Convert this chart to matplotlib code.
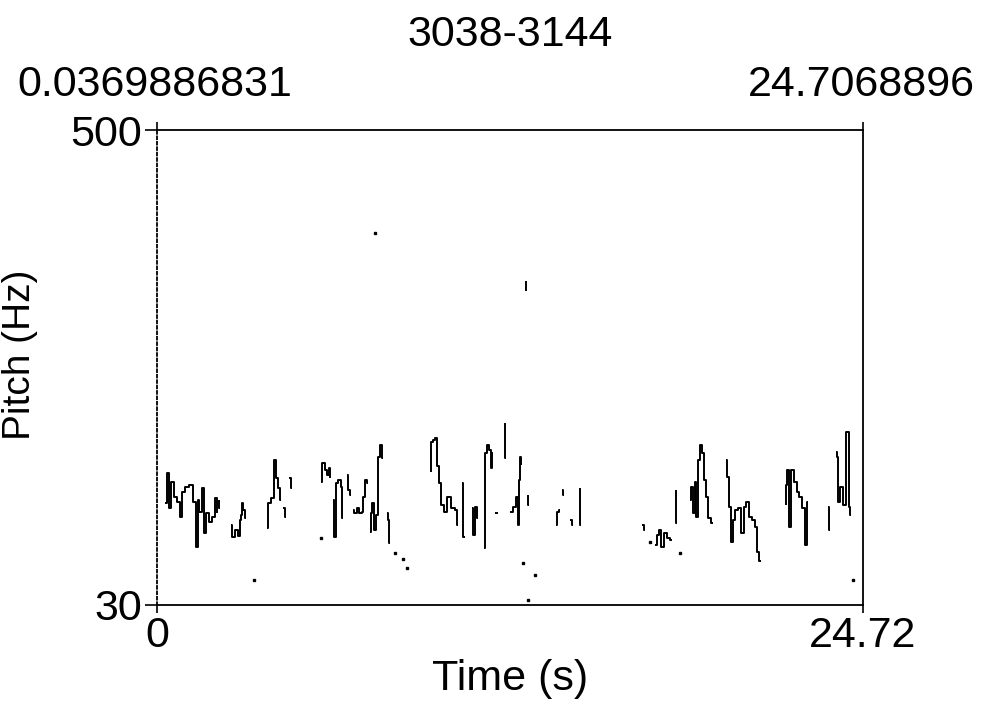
import matplotlib
matplotlib.use("Agg")
import matplotlib.pyplot as plt

plt.rcParams['font.family'] = ['Liberation Sans', 'DejaVu Sans']

# Praat-style pitch track, 3038-3144
title = "3038-3144"
t_start, t_end = 0.0369886831, 24.7068896
x_min, x_max = 0, 24.72
f_min, f_max = 30, 500

# voiced chunks: (time s, pitch Hz)
chunk_t = [
    [0.28, 0.39, 0.42, 0.53, 0.63, 0.74, 0.84, 0.91, 1.02, 1.19, 1.30, 1.40, 1.44, 1.51, 1.61, 1.68, 1.75, 1.86, 1.96, 2.07, 2.10],
    [2.17, 2.19],
    [2.59, 2.66, 2.77, 2.87, 2.91, 2.94, 2.98, 3.05, 3.12],
    [3.85, 3.92, 4.03, 4.13, 4.20, 4.27, 4.34],
    [4.41, 4.52],
    [4.62, 4.73],
    [5.74, 5.81, 5.92, 5.99, 6.02, 6.06],
    [6.16, 6.27, 6.30, 6.41, 6.48, 6.51],
    [6.65, 6.72, 6.79],
    [6.86, 6.97, 7.04, 7.14, 7.21, 7.25, 7.32, 7.39],
    [7.46, 7.53, 7.56, 7.63, 7.70, 7.77, 7.88, 7.91],
    [8.05, 8.12, 8.16],
    [9.59, 9.63, 9.70, 9.80, 9.84, 9.91, 10.01, 10.08, 10.26, 10.36, 10.50, 10.54],
    [10.68, 10.78],
    [11.03, 11.10, 11.17, 11.24],
    [11.45, 11.52, 11.59, 11.66, 11.73, 11.76],
    [11.83, 11.94],
    [12.18, 12.22],
    [12.36, 12.54, 12.61, 12.64, 12.68, 12.71, 12.78],
    [12.92, 12.93],
    [12.99, 13.01],
    [13.97, 14.04, 14.11],
    [14.18, 14.25],
    [14.46, 14.57],
    [14.81, 14.83],
    [16.98, 17.09],
    [17.44, 17.54, 17.61, 17.68, 17.79, 17.89, 18.03],
    [18.17, 18.19],
    [18.66, 18.73, 18.80, 18.87, 18.91, 18.98, 19.08, 19.12, 19.19, 19.26, 19.36, 19.47],
    [19.92, 19.99, 20.06, 20.13, 20.20, 20.31, 20.41, 20.52, 20.59, 20.69, 20.80, 20.87, 21.01, 21.04, 21.15],
    [22.02, 22.04, 22.09, 22.16, 22.27, 22.37, 22.44, 22.55, 22.62, 22.73, 22.80],
    [23.49, 23.56],
    [23.77, 23.85, 23.87, 23.99, 24.02, 24.20, 24.23, 24.30],
]
chunk_f = [
    [131, 161, 126, 152, 137, 132, 117, 142, 147, 149, 132, 87, 134, 122, 146, 101, 121, 112, 117, 136, 121],
    [134, 126],
    [109, 97, 104, 98, 114, 119, 131, 124, 116],
    [106, 131, 136, 173, 156, 146, 134],
    [126, 117],
    [156, 146],
    [152, 171, 164, 159, 166, 156],
    [134, 97, 151, 154, 147, 116],
    [159, 144, 139],
    [124, 121, 126, 121, 122, 137, 154, 151],
    [102, 121, 131, 104, 119, 176, 188, 175],
    [121, 114, 91],
    [162, 191, 193, 195, 168, 151, 129, 122, 137, 126, 124, 109],
    [151, 97],
    [126, 99, 127, 116],
    [86, 180, 188, 183, 166, 180],
    [121, 121],
    [210, 175],
    [122, 127, 137, 109, 154, 176, 170],
    [351, 341],
    [139, 129],
    [109, 122, 124],
    [144, 139],
    [114, 109],
    [146, 109],
    [109, 104],
    [89, 99, 104, 87, 101, 96, 94],
    [144, 111],
    [134, 147, 121, 152, 117, 173, 188, 180, 154, 137, 116, 111],
    [173, 157, 127, 92, 114, 124, 126, 101, 127, 132, 117, 114, 107, 82, 74],
    [129, 149, 164, 107, 164, 152, 142, 137, 126, 89, 132],
    [127, 104],
    [181, 176, 132, 147, 129, 201, 127, 119],
]

# isolated frames
dot_t = [3.40, 5.74, 7.63, 8.33, 8.61, 8.75, 12.82, 12.99, 13.24, 17.26, 18.31, 24.37]
dot_f = [55, 96, 398, 81, 76, 67, 72, 35, 60, 92, 81, 55]

fig = plt.figure(figsize=(9.89, 7.24), dpi=100)
ax = fig.add_axes([157/989, 1-605/724, 706/989, 475/724])

for ts, fs in zip(chunk_t, chunk_f):
    ax.plot(ts, fs, color="black", lw=1.4, drawstyle="steps-mid", solid_capstyle="butt")
ax.plot(dot_t, dot_f, ls="none", marker="s", ms=1.8, color="black")

ax.set_xlim(x_min, x_max)
ax.set_ylim(f_min, f_max)
ax.set_xticks([x_min, x_max])
ax.set_xticklabels(["0", "24.72"])
ax.set_yticks([f_min, f_max])
ax.set_yticklabels(["30", "500"])
ax.tick_params(direction="out", length=9, width=1.2, labelsize=31, pad=2, colors="black")
ax.tick_params(top=True, labeltop=False, length=6, axis="x")

for side in ["top", "right", "bottom"]:
    ax.spines[side].set_linewidth(1.3)
ax.spines["left"].set_linestyle((0, (1.5, 1.5)))
ax.spines["left"].set_linewidth(1.3)

ax.set_xlabel("Time (s)", fontsize=31, labelpad=2)
fig.text(20/989, 1-355/724, "Pitch (Hz)", rotation=90, fontsize=28, ha="center", va="center")

fig.text(510/989, 1-35/724, title, fontsize=31, ha="center", va="center")
fig.text(155/989, 1-85/724, "%.10f" % t_start, fontsize=31, ha="center", va="center")
fig.text(861/989, 1-85/724, "%.7f" % t_end, fontsize=31, ha="center", va="center")

fig.savefig("out.png", dpi=100)
